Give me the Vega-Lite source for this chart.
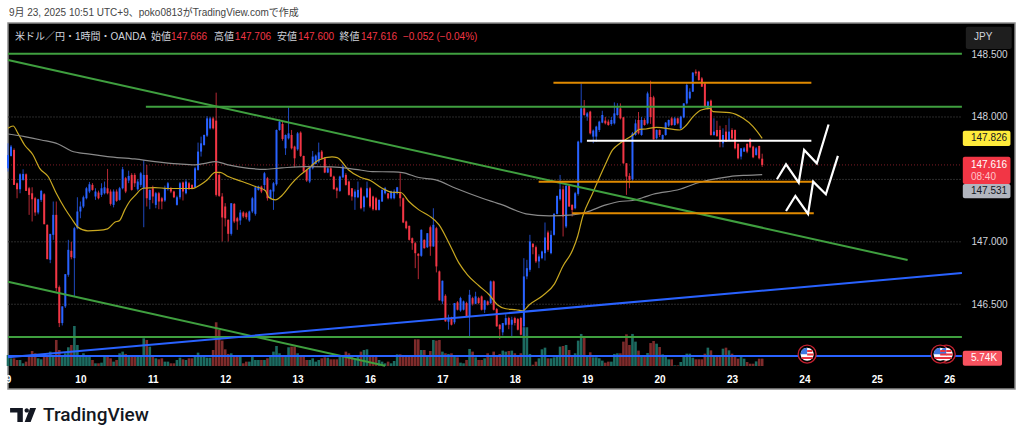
{"$schema":"https://vega.github.io/schema/vega-lite/v6.json","width":1007,"height":366,"autosize":{"type":"none"},"padding":{"left":8,"top":23,"right":9,"bottom":52},"background":"#ffffff","view":{"fill":"#000000","stroke":"#8a8a8a","strokeWidth":1.5},"config":{"axis":{"grid":false,"domain":false,"ticks":false},"font":"Liberation Sans"},
"datasets":{"candles":[
{"i":0,"o":147.589,"h":147.789,"l":147.563,"c":147.696,"v":8.6},{"i":1,"o":147.688,"h":147.776,"l":147.683,"c":147.763,"v":6},{"i":2,"o":147.736,"h":147.749,"l":147.456,"c":147.456,"v":6},{"i":3,"o":147.469,"h":147.475,"l":147.349,"c":147.421,"v":4.7},{"i":4,"o":147.421,"h":147.549,"l":147.389,"c":147.541,"v":4.7},{"i":5,"o":147.496,"h":147.581,"l":147.49,"c":147.544,"v":2.1},{"i":6,"o":147.541,"h":147.548,"l":147.408,"c":147.408,"v":3.4},{"i":7,"o":147.429,"h":147.44,"l":147.216,"c":147.376,"v":7.3},{"i":8,"o":147.389,"h":147.437,"l":147.163,"c":147.341,"v":11.7},{"i":9,"o":147.349,"h":147.36,"l":147.208,"c":147.235,"v":9.9},
{"i":10,"o":147.235,"h":147.345,"l":147.22,"c":147.341,"v":6},{"i":11,"o":147.336,"h":147.416,"l":147.32,"c":147.408,"v":5.2},{"i":12,"o":147.381,"h":147.39,"l":147.141,"c":147.141,"v":7.3},{"i":13,"o":147.136,"h":147.14,"l":146.861,"c":146.861,"v":7.3},{"i":14,"o":146.856,"h":147.06,"l":146.829,"c":147.064,"v":11.2},{"i":15,"o":147.056,"h":147.323,"l":147.016,"c":147.216,"v":8.6},{"i":16,"o":147.216,"h":147.323,"l":146.603,"c":146.629,"v":20.3},{"i":17,"o":146.637,"h":146.65,"l":146.317,"c":146.349,"v":12.5},{"i":18,"o":146.349,"h":146.483,"l":146.33,"c":146.483,"v":7.3},{"i":19,"o":146.483,"h":146.741,"l":146.47,"c":146.741,"v":9.9},
{"i":20,"o":146.736,"h":147.016,"l":146.72,"c":146.936,"v":14.6},{"i":21,"o":146.928,"h":147,"l":146.86,"c":146.877,"v":16.4},{"i":22,"o":146.869,"h":147.12,"l":146.563,"c":147.109,"v":31.2},{"i":23,"o":147.109,"h":147.357,"l":147.1,"c":147.243,"v":16.4},{"i":24,"o":147.243,"h":147.323,"l":147.189,"c":147.283,"v":7.3},{"i":25,"o":147.283,"h":147.37,"l":147.27,"c":147.357,"v":9.9},{"i":26,"o":147.349,"h":147.44,"l":147.34,"c":147.429,"v":7.3},{"i":27,"o":147.403,"h":147.48,"l":147.39,"c":147.461,"v":7.3},{"i":28,"o":147.456,"h":147.47,"l":147.41,"c":147.416,"v":4.7},{"i":29,"o":147.363,"h":147.429,"l":147.336,"c":147.403,"v":2.1},
{"i":30,"o":147.395,"h":147.41,"l":147.34,"c":147.349,"v":2.1},{"i":31,"o":147.376,"h":147.469,"l":147.36,"c":147.429,"v":2.6},{"i":32,"o":147.389,"h":147.483,"l":147.38,"c":147.437,"v":8.6},{"i":33,"o":147.429,"h":147.584,"l":147.38,"c":147.389,"v":8.6},{"i":34,"o":147.403,"h":147.42,"l":147.29,"c":147.304,"v":6},{"i":35,"o":147.296,"h":147.42,"l":147.276,"c":147.403,"v":3.4},{"i":36,"o":147.403,"h":147.42,"l":147.32,"c":147.328,"v":4.7},{"i":37,"o":147.336,"h":147.44,"l":147.33,"c":147.429,"v":9.9},{"i":38,"o":147.429,"h":147.6,"l":147.42,"c":147.581,"v":11.2},{"i":39,"o":147.509,"h":147.52,"l":147.39,"c":147.403,"v":9.4},
{"i":40,"o":147.491,"h":147.57,"l":147.47,"c":147.528,"v":7.3},{"i":41,"o":147.536,"h":147.55,"l":147.41,"c":147.416,"v":8.6},{"i":42,"o":147.536,"h":147.55,"l":147.44,"c":147.469,"v":8.6},{"i":43,"o":147.421,"h":147.5,"l":147.41,"c":147.483,"v":7.3},{"i":44,"o":147.456,"h":147.56,"l":147.44,"c":147.549,"v":7.3},{"i":45,"o":147.429,"h":147.656,"l":147.117,"c":147.536,"v":21.6},{"i":46,"o":147.536,"h":147.616,"l":147.283,"c":147.349,"v":20.3},{"i":47,"o":147.336,"h":147.42,"l":147.261,"c":147.416,"v":15.1},{"i":48,"o":147.429,"h":147.45,"l":147.309,"c":147.363,"v":7.3},{"i":49,"o":147.296,"h":147.4,"l":147.269,"c":147.389,"v":6},
{"i":50,"o":147.389,"h":147.4,"l":147.261,"c":147.323,"v":5.2},{"i":51,"o":147.349,"h":147.36,"l":147.261,"c":147.323,"v":6},{"i":52,"o":147.331,"h":147.45,"l":147.32,"c":147.429,"v":3.4},{"i":53,"o":147.421,"h":147.48,"l":147.41,"c":147.469,"v":3.4},{"i":54,"o":147.429,"h":147.44,"l":147.39,"c":147.403,"v":2.1},{"i":55,"o":147.403,"h":147.41,"l":147.35,"c":147.357,"v":2.1},{"i":56,"o":147.296,"h":147.37,"l":147.29,"c":147.357,"v":4.7},{"i":57,"o":147.357,"h":147.48,"l":147.34,"c":147.469,"v":6.5},{"i":58,"o":147.475,"h":147.483,"l":147.331,"c":147.403,"v":5.2},{"i":59,"o":147.389,"h":147.5,"l":147.38,"c":147.483,"v":4.7},
{"i":60,"o":147.469,"h":147.48,"l":147.42,"c":147.421,"v":6},{"i":61,"o":147.456,"h":147.46,"l":147.42,"c":147.429,"v":6},{"i":62,"o":147.437,"h":147.6,"l":147.43,"c":147.589,"v":8.6},{"i":63,"o":147.576,"h":147.795,"l":147.57,"c":147.723,"v":10.4},{"i":64,"o":147.723,"h":147.843,"l":147.683,"c":147.789,"v":8.6},{"i":65,"o":147.776,"h":147.86,"l":147.77,"c":147.856,"v":7.8},{"i":66,"o":147.851,"h":148.006,"l":147.84,"c":147.989,"v":6.5},{"i":67,"o":147.909,"h":148,"l":147.9,"c":147.989,"v":6.5},{"i":68,"o":147.989,"h":148,"l":147.9,"c":147.909,"v":12.5},{"i":69,"o":147.971,"h":148.195,"l":147.363,"c":147.376,"v":34.1},
{"i":70,"o":147.536,"h":147.55,"l":147.36,"c":147.368,"v":28.1},{"i":71,"o":147.363,"h":147.39,"l":147.003,"c":147.195,"v":19.8},{"i":72,"o":147.283,"h":147.31,"l":147.123,"c":147.189,"v":13},{"i":73,"o":147.176,"h":147.18,"l":147.003,"c":147.064,"v":9.4},{"i":74,"o":147.064,"h":147.31,"l":147.05,"c":147.309,"v":9.9},{"i":75,"o":147.304,"h":147.31,"l":147.15,"c":147.163,"v":7.3},{"i":76,"o":147.189,"h":147.2,"l":147.096,"c":147.163,"v":7.3},{"i":77,"o":147.171,"h":147.256,"l":147.136,"c":147.235,"v":7.3},{"i":78,"o":147.235,"h":147.245,"l":147.19,"c":147.203,"v":2.1},{"i":79,"o":147.229,"h":147.24,"l":147.18,"c":147.197,"v":3.4},
{"i":80,"o":147.171,"h":147.25,"l":147.16,"c":147.243,"v":3.4},{"i":81,"o":147.243,"h":147.36,"l":147.23,"c":147.349,"v":7.3},{"i":82,"o":147.224,"h":147.44,"l":147.21,"c":147.437,"v":4.7},{"i":83,"o":147.416,"h":147.45,"l":147.41,"c":147.443,"v":4.7},{"i":84,"o":147.443,"h":147.45,"l":147.39,"c":147.403,"v":4.7},{"i":85,"o":147.456,"h":147.56,"l":147.41,"c":147.549,"v":4.7},{"i":86,"o":147.509,"h":147.52,"l":147.33,"c":147.349,"v":6},{"i":87,"o":147.349,"h":147.42,"l":147.34,"c":147.416,"v":8.6},{"i":88,"o":147.403,"h":147.48,"l":147.256,"c":147.469,"v":11.2},{"i":89,"o":147.461,"h":147.9,"l":147.45,"c":147.896,"v":15.6},
{"i":90,"o":147.896,"h":147.98,"l":147.89,"c":147.963,"v":9.9},{"i":91,"o":147.944,"h":147.96,"l":147.81,"c":147.824,"v":7.3},{"i":92,"o":147.749,"h":147.86,"l":147.696,"c":147.856,"v":8.6},{"i":93,"o":147.829,"h":148.077,"l":147.82,"c":147.869,"v":14.6},{"i":94,"o":147.856,"h":147.896,"l":147.74,"c":147.749,"v":15.1},{"i":95,"o":147.763,"h":147.77,"l":147.597,"c":147.669,"v":15.1},{"i":96,"o":147.741,"h":147.88,"l":147.73,"c":147.869,"v":9.9},{"i":97,"o":147.875,"h":147.885,"l":147.68,"c":147.688,"v":7.3},{"i":98,"o":147.688,"h":147.69,"l":147.56,"c":147.563,"v":7.3},{"i":99,"o":147.576,"h":147.58,"l":147.48,"c":147.491,"v":4.7},
{"i":100,"o":147.483,"h":147.61,"l":147.47,"c":147.597,"v":4.7},{"i":101,"o":147.589,"h":147.728,"l":147.58,"c":147.683,"v":6},{"i":102,"o":147.624,"h":147.7,"l":147.62,"c":147.691,"v":3.4},{"i":103,"o":147.643,"h":147.795,"l":147.63,"c":147.717,"v":4.7},{"i":104,"o":147.723,"h":147.735,"l":147.66,"c":147.669,"v":6},{"i":105,"o":147.669,"h":147.68,"l":147.55,"c":147.555,"v":6.8},{"i":106,"o":147.555,"h":147.6,"l":147.55,"c":147.589,"v":6.5},{"i":107,"o":147.589,"h":147.6,"l":147.52,"c":147.523,"v":5.2},{"i":108,"o":147.523,"h":147.53,"l":147.42,"c":147.421,"v":5.2},{"i":109,"o":147.43,"h":147.44,"l":147.349,"c":147.41,"v":5.2},
{"i":110,"o":147.408,"h":147.53,"l":147.4,"c":147.523,"v":7.3},{"i":111,"o":147.517,"h":147.62,"l":147.51,"c":147.603,"v":7.3},{"i":112,"o":147.536,"h":147.55,"l":147.45,"c":147.456,"v":11.2},{"i":113,"o":147.483,"h":147.49,"l":147.37,"c":147.376,"v":9.9},{"i":114,"o":147.429,"h":147.43,"l":147.33,"c":147.363,"v":7.3},{"i":115,"o":147.357,"h":147.42,"l":147.256,"c":147.403,"v":5.2},{"i":116,"o":147.357,"h":147.483,"l":147.35,"c":147.416,"v":7.3},{"i":117,"o":147.429,"h":147.44,"l":147.26,"c":147.269,"v":11.2},{"i":118,"o":147.277,"h":147.37,"l":147.243,"c":147.363,"v":12.5},{"i":119,"o":147.357,"h":147.483,"l":147.35,"c":147.429,"v":13},
{"i":120,"o":147.429,"h":147.44,"l":147.27,"c":147.283,"v":7.8},{"i":121,"o":147.363,"h":147.37,"l":147.25,"c":147.261,"v":7.3},{"i":122,"o":147.349,"h":147.36,"l":147.25,"c":147.256,"v":7.3},{"i":123,"o":147.256,"h":147.34,"l":147.25,"c":147.336,"v":4.7},{"i":124,"o":147.323,"h":147.42,"l":147.32,"c":147.416,"v":3.4},{"i":125,"o":147.389,"h":147.44,"l":147.38,"c":147.429,"v":2.1},{"i":126,"o":147.389,"h":147.39,"l":147.34,"c":147.349,"v":3.4},{"i":127,"o":147.349,"h":147.41,"l":147.34,"c":147.403,"v":2.1},{"i":128,"o":147.349,"h":147.42,"l":147.34,"c":147.403,"v":3.9},{"i":129,"o":147.389,"h":147.44,"l":147.38,"c":147.437,"v":9.1},
{"i":130,"o":147.395,"h":147.549,"l":147.283,"c":147.349,"v":9.1},{"i":131,"o":147.349,"h":147.355,"l":147.15,"c":147.155,"v":8.6},{"i":132,"o":147.163,"h":147.17,"l":147.1,"c":147.109,"v":7.3},{"i":133,"o":147.128,"h":147.13,"l":147.01,"c":147.016,"v":7.3},{"i":134,"o":147.029,"h":147.035,"l":146.936,"c":146.989,"v":7.8},{"i":135,"o":146.989,"h":147,"l":146.789,"c":146.909,"v":20.8},{"i":136,"o":146.904,"h":146.91,"l":146.701,"c":146.888,"v":20.8},{"i":137,"o":146.888,"h":147.1,"l":146.88,"c":147.096,"v":12.5},{"i":138,"o":147.016,"h":147.02,"l":146.945,"c":146.949,"v":12.5},{"i":139,"o":146.957,"h":147.07,"l":146.95,"c":147.069,"v":8.6},
{"i":140,"o":147.117,"h":147.13,"l":146.888,"c":146.963,"v":11.7},{"i":141,"o":146.963,"h":147.269,"l":146.96,"c":147.136,"v":20.3},{"i":142,"o":147.109,"h":147.12,"l":146.755,"c":146.803,"v":19.8},{"i":143,"o":146.763,"h":146.77,"l":146.53,"c":146.531,"v":20.3},{"i":144,"o":146.523,"h":146.69,"l":146.5,"c":146.688,"v":11.2},{"i":145,"o":146.568,"h":146.58,"l":146.36,"c":146.363,"v":9.9},{"i":146,"o":146.36,"h":146.416,"l":146.296,"c":146.39,"v":9.4},{"i":147,"o":146.39,"h":146.4,"l":146.33,"c":146.336,"v":9.9},{"i":148,"o":146.355,"h":146.51,"l":146.34,"c":146.509,"v":8.6},{"i":149,"o":146.515,"h":146.525,"l":146.45,"c":146.456,"v":6.8},
{"i":150,"o":146.45,"h":146.56,"l":146.44,"c":146.549,"v":2.6},{"i":151,"o":146.456,"h":146.53,"l":146.45,"c":146.523,"v":2.1},{"i":152,"o":146.509,"h":146.52,"l":146.4,"c":146.403,"v":4.7},{"i":153,"o":146.403,"h":146.615,"l":146.229,"c":146.576,"v":13.3},{"i":154,"o":146.549,"h":146.56,"l":146.49,"c":146.504,"v":11.2},{"i":155,"o":146.504,"h":146.6,"l":146.5,"c":146.563,"v":6.8},{"i":156,"o":146.549,"h":146.56,"l":146.5,"c":146.51,"v":4.7},{"i":157,"o":146.563,"h":146.57,"l":146.45,"c":146.456,"v":4.7},{"i":158,"o":146.456,"h":146.535,"l":146.43,"c":146.531,"v":6},{"i":159,"o":146.523,"h":146.53,"l":146.49,"c":146.496,"v":9.9},
{"i":160,"o":146.509,"h":146.69,"l":146.5,"c":146.683,"v":6.8},{"i":161,"o":146.683,"h":146.69,"l":146.45,"c":146.456,"v":11.2},{"i":162,"o":146.461,"h":146.47,"l":146.32,"c":146.323,"v":8.6},{"i":163,"o":146.336,"h":146.34,"l":146.221,"c":146.3,"v":9.4},{"i":164,"o":146.275,"h":146.35,"l":146.25,"c":146.349,"v":12},{"i":165,"o":146.336,"h":146.42,"l":146.33,"c":146.389,"v":11.2},{"i":166,"o":146.389,"h":146.4,"l":146.3,"c":146.336,"v":11.7},{"i":167,"o":146.336,"h":146.4,"l":146.229,"c":146.376,"v":12},{"i":168,"o":146.389,"h":146.4,"l":146.33,"c":146.35,"v":9.9},{"i":169,"o":146.381,"h":146.39,"l":146.29,"c":146.296,"v":7.3},
{"i":170,"o":146.389,"h":146.4,"l":146.25,"c":146.256,"v":9.9},{"i":171,"o":146.323,"h":146.869,"l":146.23,"c":146.723,"v":30.2},{"i":172,"o":146.723,"h":146.856,"l":146.7,"c":146.789,"v":30.2},{"i":173,"o":146.776,"h":147.056,"l":146.76,"c":147.003,"v":9.4},{"i":174,"o":146.984,"h":146.99,"l":146.9,"c":146.957,"v":1},{"i":175,"o":146.957,"h":146.97,"l":146.83,"c":146.843,"v":3.4},{"i":176,"o":146.843,"h":146.9,"l":146.789,"c":146.883,"v":6},{"i":177,"o":146.869,"h":146.93,"l":146.86,"c":146.923,"v":13},{"i":178,"o":146.909,"h":147.155,"l":146.85,"c":147.035,"v":14.3},{"i":179,"o":147.075,"h":147.09,"l":146.92,"c":146.936,"v":6},
{"i":180,"o":146.909,"h":147.09,"l":146.9,"c":147.056,"v":6},{"i":181,"o":147.056,"h":147.23,"l":147.05,"c":147.224,"v":6.8},{"i":182,"o":147.224,"h":147.37,"l":147.22,"c":147.368,"v":7.3},{"i":183,"o":147.341,"h":147.536,"l":147.33,"c":147.421,"v":15.1},{"i":184,"o":147.421,"h":147.45,"l":147.043,"c":147.203,"v":15.6},{"i":185,"o":147.123,"h":147.46,"l":147.11,"c":147.448,"v":16.4},{"i":186,"o":147.448,"h":147.46,"l":147.28,"c":147.283,"v":12.5},{"i":187,"o":147.296,"h":147.3,"l":147.203,"c":147.256,"v":8.6},{"i":188,"o":147.269,"h":147.4,"l":147.26,"c":147.389,"v":9.9},{"i":189,"o":147.384,"h":147.81,"l":147.37,"c":147.803,"v":19.8},
{"i":190,"o":147.797,"h":148.269,"l":147.79,"c":148.069,"v":25},{"i":191,"o":148.069,"h":148.136,"l":148.01,"c":148.016,"v":22.9},{"i":192,"o":148.003,"h":148.04,"l":147.97,"c":148.029,"v":8.6},{"i":193,"o":148.043,"h":148.05,"l":147.86,"c":147.869,"v":10.7},{"i":194,"o":147.843,"h":147.9,"l":147.79,"c":147.891,"v":6.8},{"i":195,"o":147.843,"h":147.93,"l":147.8,"c":147.923,"v":6.8},{"i":196,"o":147.896,"h":147.97,"l":147.88,"c":147.963,"v":6},{"i":197,"o":147.955,"h":148.05,"l":147.95,"c":148.016,"v":4.2},{"i":198,"o":147.971,"h":148,"l":147.94,"c":147.949,"v":2.6},{"i":199,"o":147.963,"h":147.98,"l":147.93,"c":147.936,"v":3.4},
{"i":200,"o":147.944,"h":148,"l":147.93,"c":147.976,"v":3.4},{"i":201,"o":147.949,"h":148.117,"l":147.94,"c":148.029,"v":9.4},{"i":202,"o":148.016,"h":148.11,"l":148.01,"c":148.077,"v":9.9},{"i":203,"o":148.069,"h":148.109,"l":147.98,"c":147.989,"v":9.9},{"i":204,"o":147.997,"h":148,"l":147.625,"c":147.629,"v":19},{"i":205,"o":147.629,"h":147.63,"l":147.376,"c":147.523,"v":24.7},{"i":206,"o":147.528,"h":147.55,"l":147.429,"c":147.496,"v":16.4},{"i":207,"o":147.501,"h":147.88,"l":147.49,"c":147.869,"v":25},{"i":208,"o":147.856,"h":147.98,"l":147.85,"c":147.949,"v":19},{"i":209,"o":147.976,"h":148.04,"l":147.86,"c":147.869,"v":12},
{"i":210,"o":147.856,"h":148,"l":147.85,"c":147.976,"v":8.6},{"i":211,"o":147.976,"h":147.99,"l":147.93,"c":147.936,"v":7},{"i":212,"o":147.949,"h":148.203,"l":147.94,"c":148.189,"v":10.1},{"i":213,"o":148.16,"h":148.291,"l":147.945,"c":148,"v":17.9},{"i":214,"o":148.157,"h":148.17,"l":147.82,"c":147.821,"v":19.5},{"i":215,"o":147.829,"h":147.9,"l":147.82,"c":147.896,"v":17.4},{"i":216,"o":147.896,"h":147.9,"l":147.84,"c":147.856,"v":14.8},{"i":217,"o":147.821,"h":147.86,"l":147.81,"c":147.856,"v":9.1},{"i":218,"o":147.856,"h":147.96,"l":147.85,"c":147.955,"v":7},{"i":219,"o":147.931,"h":147.98,"l":147.92,"c":147.976,"v":5.2},
{"i":220,"o":147.989,"h":148,"l":147.93,"c":147.936,"v":5.2},{"i":221,"o":147.936,"h":148,"l":147.93,"c":147.989,"v":0.5},{"i":222,"o":147.989,"h":147.995,"l":147.94,"c":147.949,"v":0.5},{"i":223,"o":147.909,"h":148.01,"l":147.9,"c":148.003,"v":3.1},{"i":224,"o":147.997,"h":148.11,"l":147.99,"c":148.109,"v":8.3},{"i":225,"o":148.109,"h":148.27,"l":148.1,"c":148.256,"v":9.6},{"i":226,"o":148.149,"h":148.23,"l":148.14,"c":148.203,"v":9.6},{"i":227,"o":148.203,"h":148.36,"l":148.2,"c":148.355,"v":6.5},{"i":228,"o":148.363,"h":148.381,"l":148.33,"c":148.349,"v":5.2},{"i":229,"o":148.363,"h":148.37,"l":148.29,"c":148.296,"v":5.2},
{"i":230,"o":148.309,"h":148.32,"l":148.24,"c":148.243,"v":5.2},{"i":231,"o":148.269,"h":148.28,"l":148.08,"c":148.083,"v":9.6},{"i":232,"o":148.069,"h":148.13,"l":148.06,"c":148.123,"v":14.3},{"i":233,"o":148.131,"h":148.14,"l":147.85,"c":147.856,"v":12.2},{"i":234,"o":147.856,"h":147.99,"l":147.85,"c":147.883,"v":7},{"i":235,"o":147.896,"h":147.97,"l":147.84,"c":147.848,"v":8.3},{"i":236,"o":147.896,"h":147.93,"l":147.757,"c":147.803,"v":8.3},{"i":237,"o":147.789,"h":147.909,"l":147.757,"c":147.856,"v":13.5},{"i":238,"o":147.883,"h":147.936,"l":147.8,"c":147.803,"v":14.3},{"i":239,"o":147.816,"h":147.989,"l":147.81,"c":147.883,"v":12.2},
{"i":240,"o":147.896,"h":147.91,"l":147.82,"c":147.829,"v":9.6},{"i":241,"o":147.896,"h":147.9,"l":147.74,"c":147.749,"v":7},{"i":242,"o":147.784,"h":147.79,"l":147.66,"c":147.669,"v":5.7},{"i":243,"o":147.683,"h":147.75,"l":147.66,"c":147.749,"v":8.3},{"i":244,"o":147.723,"h":147.76,"l":147.72,"c":147.749,"v":5.7},{"i":245,"o":147.784,"h":147.79,"l":147.71,"c":147.723,"v":3.1},{"i":246,"o":147.821,"h":147.83,"l":147.75,"c":147.757,"v":1.8},{"i":247,"o":147.763,"h":147.77,"l":147.67,"c":147.677,"v":1.8},{"i":248,"o":147.696,"h":147.76,"l":147.69,"c":147.749,"v":3.6},{"i":249,"o":147.768,"h":147.77,"l":147.66,"c":147.669,"v":5.7},
{"i":250,"o":147.666,"h":147.706,"l":147.6,"c":147.616,"v":5.74}],
"sma":[
{"i":0,"p":147.909,"s":"short"},{"i":1.7,"p":147.928,"s":"short"},{"i":3.3,"p":147.869,"s":"short"},{"i":5.5,"p":147.776,"s":"short"},{"i":8.3,"p":147.696,"s":"short"},{"i":10.5,"p":147.589,"s":"short"},{"i":13.3,"p":147.523,"s":"short"},{"i":16,"p":147.389,"s":"short"},{"i":18.8,"p":147.269,"s":"short"},{"i":21,"p":147.189,"s":"short"},{"i":23.2,"p":147.117,"s":"short"},{"i":26.5,"p":147.088,"s":"short"},{"i":29.8,"p":147.091,"s":"short"},{"i":33,"p":147.104,"s":"short"},{"i":35.4,"p":147.157,"s":"short"},{"i":37,"p":147.171,"s":"short"},{"i":38.7,"p":147.256,"s":"short"},{"i":40.3,"p":147.323,"s":"short"},{"i":42,"p":147.368,"s":"short"},{"i":44.8,"p":147.429,"s":"short"},{"i":48.7,"p":147.435,"s":"short"},{"i":53,"p":147.427,"s":"short"},{"i":56.4,"p":147.427,"s":"short"},{"i":61,"p":147.427,"s":"short"},{"i":63.7,"p":147.456,"s":"short"},{"i":66,"p":147.496,"s":"short"},{"i":68.7,"p":147.557,"s":"short"},{"i":70.3,"p":147.557,"s":"short"},{"i":73,"p":147.523,"s":"short"},{"i":77.6,"p":147.483,"s":"short"},{"i":82,"p":147.443,"s":"short"},{"i":85.3,"p":147.411,"s":"short"},{"i":86.4,"p":147.357,"s":"short"},{"i":88.6,"p":147.336,"s":"short"},{"i":90.8,"p":147.371,"s":"short"},{"i":94.1,"p":147.469,"s":"short"},{"i":96.9,"p":147.536,"s":"short"},{"i":99.7,"p":147.589,"s":"short"},{"i":103,"p":147.656,"s":"short"},{"i":107.4,"p":147.68,"s":"short"},{"i":109.1,"p":147.675,"s":"short"},{"i":112.9,"p":147.576,"s":"short"},{"i":116.8,"p":147.517,"s":"short"},{"i":120.1,"p":147.491,"s":"short"},{"i":124,"p":147.429,"s":"short"},{"i":127.3,"p":147.397,"s":"short"},{"i":130.2,"p":147.395,"s":"short"},{"i":132.9,"p":147.323,"s":"short"},{"i":136.2,"p":147.256,"s":"short"},{"i":139.6,"p":147.208,"s":"short"},{"i":142.9,"p":147.136,"s":"short"},{"i":146.2,"p":146.989,"s":"short"},{"i":149.5,"p":146.829,"s":"short"},{"i":152.3,"p":146.736,"s":"short"},{"i":156.1,"p":146.648,"s":"short"},{"i":159.5,"p":146.576,"s":"short"},{"i":162.2,"p":146.496,"s":"short"},{"i":165,"p":146.464,"s":"short"},{"i":168.4,"p":146.456,"s":"short"},{"i":170.6,"p":146.448,"s":"short"},{"i":172.8,"p":146.496,"s":"short"},{"i":177.2,"p":146.568,"s":"short"},{"i":181.1,"p":146.661,"s":"short"},{"i":183.9,"p":146.803,"s":"short"},{"i":187.2,"p":146.936,"s":"short"},{"i":188.8,"p":147.043,"s":"short"},{"i":190.5,"p":147.203,"s":"short"},{"i":193.8,"p":147.389,"s":"short"},{"i":197.7,"p":147.603,"s":"short"},{"i":200.4,"p":147.736,"s":"short"},{"i":203.2,"p":147.795,"s":"short"},{"i":207.1,"p":147.856,"s":"short"},{"i":209.3,"p":147.901,"s":"short"},{"i":211.5,"p":147.904,"s":"short"},{"i":214.9,"p":147.917,"s":"short"},{"i":222.7,"p":147.896,"s":"short"},{"i":224.9,"p":147.936,"s":"short"},{"i":227.1,"p":148.003,"s":"short"},{"i":229.8,"p":148.056,"s":"short"},{"i":232.6,"p":148.069,"s":"short"},{"i":233.7,"p":148.043,"s":"short"},{"i":239.2,"p":148.035,"s":"short"},{"i":243.7,"p":147.989,"s":"short"},{"i":247,"p":147.923,"s":"short"},{"i":250,"p":147.829,"s":"short"},
{"i":0,"p":147.864,"s":"long"},{"i":5.5,"p":147.843,"s":"long"},{"i":11,"p":147.816,"s":"long"},{"i":16.6,"p":147.784,"s":"long"},{"i":21,"p":147.728,"s":"long"},{"i":26.5,"p":147.704,"s":"long"},{"i":33,"p":147.683,"s":"long"},{"i":42,"p":147.664,"s":"long"},{"i":48.7,"p":147.643,"s":"long"},{"i":56.4,"p":147.624,"s":"long"},{"i":62,"p":147.616,"s":"long"},{"i":65.3,"p":147.629,"s":"long"},{"i":68.7,"p":147.643,"s":"long"},{"i":73,"p":147.616,"s":"long"},{"i":79.8,"p":147.589,"s":"long"},{"i":85.3,"p":147.581,"s":"long"},{"i":90.8,"p":147.592,"s":"long"},{"i":98.6,"p":147.603,"s":"long"},{"i":107.4,"p":147.6,"s":"long"},{"i":115.1,"p":147.581,"s":"long"},{"i":120.7,"p":147.563,"s":"long"},{"i":127.3,"p":147.56,"s":"long"},{"i":130.7,"p":147.555,"s":"long"},{"i":136.2,"p":147.515,"s":"long"},{"i":141.8,"p":147.496,"s":"long"},{"i":148.4,"p":147.429,"s":"long"},{"i":157.2,"p":147.349,"s":"long"},{"i":163.9,"p":147.296,"s":"long"},{"i":168.4,"p":147.251,"s":"long"},{"i":171.7,"p":147.224,"s":"long"},{"i":179.4,"p":147.208,"s":"long"},{"i":187.2,"p":147.216,"s":"long"},{"i":191.6,"p":147.237,"s":"long"},{"i":198.2,"p":147.296,"s":"long"},{"i":202.7,"p":147.323,"s":"long"},{"i":207.1,"p":147.331,"s":"long"},{"i":210.5,"p":147.355,"s":"long"},{"i":213.8,"p":147.381,"s":"long"},{"i":222.7,"p":147.421,"s":"long"},{"i":228.2,"p":147.469,"s":"long"},{"i":232.6,"p":147.496,"s":"long"},{"i":239.2,"p":147.523,"s":"long"},{"i":244.8,"p":147.533,"s":"long"},{"i":250,"p":147.539,"s":"long"}],
"levels":[{"i0":0,"i1":316.2,"p0":148,"p1":148,"k":"grid"},{"i0":0,"i1":316.2,"p0":147.5,"p1":147.5,"k":"grid"},{"i0":0,"i1":316.2,"p0":147,"p1":147,"k":"grid"},{"i0":0,"i1":316.2,"p0":146.5,"p1":146.5,"k":"grid"},{"i0":0,"i1":316.2,"p0":147.616,"p1":147.616,"k":"last"}],
"segments":[{"i0":0,"i1":316.2,"p0":148.507,"p1":148.507,"k":"green"},{"i0":45.7,"i1":316.2,"p0":148.082,"p1":148.082,"k":"green"},{"i0":0,"i1":298.2,"p0":148.456,"p1":146.854,"k":"green"},{"i0":0,"i1":316.2,"p0":146.237,"p1":146.237,"k":"green"},{"i0":0,"i1":125,"p0":146.68,"p1":146.007,"k":"green"},{"i0":0,"i1":316.2,"p0":146.075,"p1":146.75,"k":"blue"},{"i0":0,"i1":316.2,"p0":146.085,"p1":146.085,"k":"blue"},{"i0":180.8,"i1":266.3,"p0":148.275,"p1":148.275,"k":"orange"},{"i0":175.9,"i1":267.1,"p0":147.482,"p1":147.482,"k":"orange"},{"i0":187,"i1":267.1,"p0":147.228,"p1":147.228,"k":"orange"},{"i0":191.9,"i1":266.3,"p0":147.81,"p1":147.81,"k":"white"}],
"zigzag":[{"i":254.9,"p":147.501,"g":"a","n":0},{"i":257.9,"p":147.621,"g":"a","n":1},{"i":262.1,"p":147.474,"g":"a","n":2},{"i":263.9,"p":147.736,"g":"a","n":3},{"i":268.1,"p":147.629,"g":"a","n":4},{"i":272,"p":147.94,"g":"a","n":5},{"i":257.9,"p":147.247,"g":"b","n":0},{"i":261,"p":147.367,"g":"b","n":1},{"i":265.2,"p":147.223,"g":"b","n":2},{"i":266.9,"p":147.482,"g":"b","n":3},{"i":271.1,"p":147.381,"g":"b","n":4},{"i":275.1,"p":147.688,"g":"b","n":5}],
"boxes":[{"i0":317.5,"i1":332.7,"p0":148.723,"p1":148.545,"k":"jpy"},{"i0":316.5,"i1":332.3,"p0":147.89,"p1":147.768,"k":"sma"},{"i0":316.5,"i1":332.3,"p0":147.682,"p1":147.463,"k":"price"},{"i0":316.5,"i1":332.3,"p0":147.463,"p1":147.349,"k":"long"},{"i0":316.5,"i1":329.5,"p0":146.128,"p1":146.008,"k":"vol"}],
"labels":[{"i":0.3,"p":148.833,"t":"9月 23, 2025 10:51 UTC+9、poko0813がTradingView.comで作成","k":"note"},{"i":2.3,"p":148.641,"t":"米ドル／円・1時間・OANDA","k":"head"},{"i":47.4,"p":148.641,"t":"始値","k":"head"},{"i":54,"p":148.641,"t":"147.666","k":"val"},{"i":68.3,"p":148.641,"t":"高値","k":"head"},{"i":75.2,"p":148.641,"t":"147.706","k":"val"},{"i":89.2,"p":148.641,"t":"安値","k":"head"},{"i":96.1,"p":148.641,"t":"147.600","k":"val"},{"i":109.9,"p":148.641,"t":"終値","k":"head"},{"i":117,"p":148.641,"t":"147.616","k":"val"},{"i":130.9,"p":148.641,"t":"−0.052 (−0.04%)","k":"val"},{"i":320.2,"p":148.637,"t":"JPY","k":"head"},{"i":319.2,"p":147.828,"t":"147.826","k":"dark"},{"i":319.2,"p":147.616,"t":"147.616","k":"bright"},{"i":319.2,"p":147.523,"t":"08:40","k":"pale"},{"i":319.2,"p":147.407,"t":"147.531","k":"dark"},{"i":319.2,"p":146.07,"t":"5.74K","k":"bright"}],
"flags":[{"i":311,"p":146.1},{"i":309,"p":146.1},{"i":264.9,"p":146.1}],
"brand":[{"i":5,"p":145.613,"a":11.6,"t":"TradingView"}]},
"resolve":{"scale":{"y":"independent"},"axis":{"y":"independent"}},
"encoding":{"x":{"field":"i","type":"quantitative","title":null,"scale":{"domain":[0,333.8],"nice":false,"zero":false,"padding":0},"axis":{"values":[0,24,48,72,96,120,144,168,192,216,240,264,288,312],"labelExpr":"['9','10','11','12','13','16','17','18','19','20','23','24','25','26'][datum.value/24]","offset":-15,"labelPadding":0,"labelColor":"#ffffff","labelFontSize":10,"labelFontWeight":"bold","labelFont":"Liberation Sans","labelBound":false,"labelFlush":false,"labelOverlap":false,"grid":false,"domain":false,"ticks":false}}},
"layer":[
{"data":{"name":"candles"},"mark":{"type":"bar","size":2.6},"encoding":{"y":{"field":"v","type":"quantitative","stack":null,"title":null,"axis":null,"scale":{"domain":[-17.94,267.5],"nice":false,"zero":false}},"color":{"condition":{"test":"datum.c>=datum.o","value":"#1c6a60"},"value":"#7d2b2b"}}},
{"encoding":{"y":{"field":"p","type":"quantitative","title":null,"scale":{"domain":[145.821,148.753],"nice":false,"zero":false},"axis":{"orient":"right","values":[148.5,148,147,146.5],"format":".3f","offset":-44,"labelPadding":0,"labelAlign":"left","labelColor":"#d1d4dc","labelFontSize":10,"labelFont":"Liberation Sans","grid":false,"domain":false,"ticks":false}}},
"layer":[
{"data":{"name":"levels"},"transform":[{"filter":"datum.k==='grid'"}],"mark":{"type":"rule","color":"#2b2b2b","strokeWidth":1,"strokeDash":[2,1]},"encoding":{"x":{"field":"i0","type":"quantitative","title":null},"x2":{"field":"i1"},"y":{"field":"p0","type":"quantitative","title":null},"y2":{"field":"p1"}}},
{"data":{"name":"levels"},"transform":[{"filter":"datum.k==='last'"}],"mark":{"type":"rule","color":"#7d1c26","strokeWidth":1,"strokeDash":[1,2]},"encoding":{"x":{"field":"i0","type":"quantitative","title":null},"x2":{"field":"i1"},"y":{"field":"p0","type":"quantitative","title":null},"y2":{"field":"p1"}}},
{"data":{"name":"candles"},"mark":{"type":"rule","strokeWidth":1,"opacity":0.75},"encoding":{"y":{"field":"l","type":"quantitative","title":null},"y2":{"field":"h"},"color":{"condition":{"test":"datum.c>=datum.o","value":"#2962ff"},"value":"#f23645"}}},
{"data":{"name":"candles"},"mark":{"type":"bar","size":2},"encoding":{"y":{"field":"o","type":"quantitative","title":null},"y2":{"field":"c"},"color":{"condition":{"test":"datum.c>=datum.o","value":"#2962ff"},"value":"#f23645"}}},
{"data":{"name":"sma"},"mark":{"type":"line","interpolate":"monotone","strokeWidth":1.2},"encoding":{"color":{"field":"s","type":"nominal","legend":null,"scale":{"domain":["short","long","green","blue","orange","white","note","head","val","dark","bright","pale"],"range":["#c9a820","#8a8a8a","#3f9f3f","#2962ff","#e08a00","#ffffff","#444444","#d1d4dc","#f23645","#131722","#ffffff","#ffc4c9"]}}}},
{"data":{"name":"segments"},"mark":{"type":"rule","strokeWidth":2},"encoding":{"x":{"field":"i0","type":"quantitative","title":null},"x2":{"field":"i1"},"y":{"field":"p0","type":"quantitative","title":null},"y2":{"field":"p1"},"color":{"field":"k","type":"nominal","legend":null,"scale":{"domain":["short","long","green","blue","orange","white","note","head","val","dark","bright","pale"],"range":["#c9a820","#8a8a8a","#3f9f3f","#2962ff","#e08a00","#ffffff","#444444","#d1d4dc","#f23645","#131722","#ffffff","#ffc4c9"]}}}},
{"data":{"name":"zigzag"},"mark":{"type":"line","color":"#ffffff","strokeWidth":2.2},"encoding":{"detail":{"field":"g"},"order":{"field":"n"}}},
{"data":{"name":"boxes"},"mark":{"type":"rect","cornerRadius":2},"encoding":{"x":{"field":"i0","type":"quantitative","title":null},"x2":{"field":"i1"},"y":{"field":"p0","type":"quantitative","title":null},"y2":{"field":"p1"},"fill":{"field":"k","type":"nominal","legend":null,"scale":{"domain":["jpy","sma","price","long","vol"],"range":["#1e1e1e","#ffeb3b","#f23645","#b2b5be","#f7525f"]}}}},
{"data":{"name":"labels"},"mark":{"type":"text","align":"left","baseline":"middle","fontSize":10,"font":"Liberation Sans, Noto Sans CJK JP"},"encoding":{"text":{"field":"t"},"color":{"field":"k","type":"nominal","legend":null,"scale":{"domain":["short","long","green","blue","orange","white","note","head","val","dark","bright","pale"],"range":["#c9a820","#8a8a8a","#3f9f3f","#2962ff","#e08a00","#ffffff","#444444","#d1d4dc","#f23645","#131722","#ffffff","#ffc4c9"]}}}},
{"data":{"name":"flags"},"mark":{"type":"point","filled":true,"shape":"M-1 0A1 1 0 1 0 1 0A1 1 0 1 0 -1 0Z","size":324,"fill":"#000000","stroke":"#c2202f","strokeWidth":1.3,"opacity":1}},
{"data":{"name":"flags"},"mark":{"type":"point","filled":true,"shape":"M-1 0A1 1 0 1 0 1 0A1 1 0 1 0 -1 0Z","size":169,"color":"#ffffff","opacity":1}},
{"data":{"name":"flags"},"mark":{"type":"point","filled":true,"shape":"M-1 0A1 1 0 0 1 0 -1V0Z","size":169,"color":"#3f78e0","opacity":1}},
{"data":{"name":"flags"},"mark":{"type":"point","filled":true,"shape":"M0 -.65H.8V-.35H0ZM0 -.1H1V.2H0ZM-.85 .45H.85V.75H-.85Z","size":169,"color":"#e8363f","opacity":1}},
{"data":{"name":"brand"},"mark":{"type":"point","filled":true,"shape":"M-1 -.54H-.02V.54H-.44V-.19H-1ZM.11 -.35A.17 .17 0 1 0 .45 -.35A.17 .17 0 1 0 .11 -.35ZM.54 -.54H1L.58 .54H.12Z","size":676,"color":"#131722","opacity":1}},
{"data":{"name":"brand"},"mark":{"type":"text","align":"left","baseline":"middle","fontSize":19,"fontWeight":500,"font":"Roboto","color":"#131722"},"encoding":{"x":{"field":"a","type":"quantitative","title":null},"text":{"field":"t"}}}
]}]}
